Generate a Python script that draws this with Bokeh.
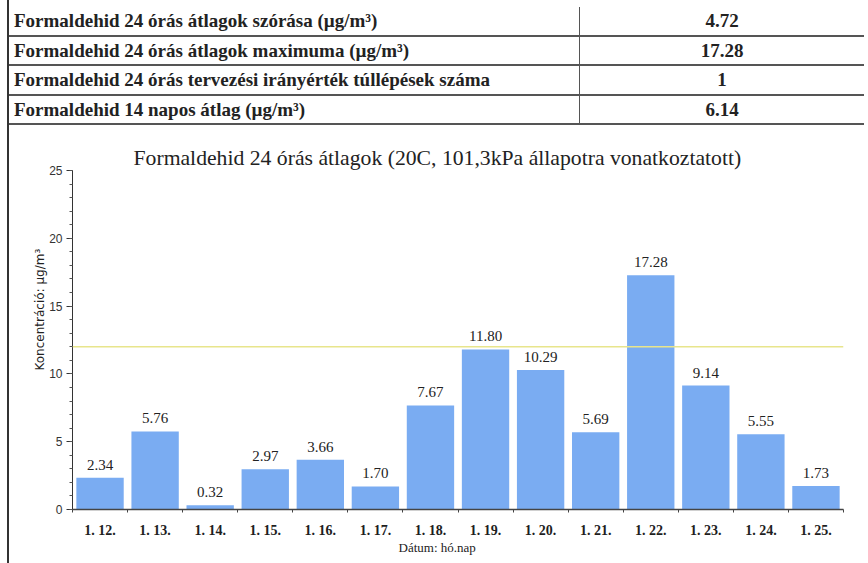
from bokeh.plotting import figure
from bokeh.models import Range1d, FixedTicker, Span, Div, Title
from bokeh.layouts import column
from bokeh.core.properties import value
from bokeh.embed import file_html
from bokeh.resources import INLINE

# ---- data ----
table_labels = [
    "Formaldehid 24 órás átlagok szórása (µg/m³)",
    "Formaldehid 24 órás átlagok maximuma (µg/m³)",
    "Formaldehid 24 órás tervezési irányérték túllépések száma",
    "Formaldehid 14 napos átlag (µg/m³)",
]
table_values = ["4.72", "17.28", "1", "6.14"]

dates = ["1. 12.", "1. 13.", "1. 14.", "1. 15.", "1. 16.", "1. 17.", "1. 18.",
         "1. 19.", "1. 20.", "1. 21.", "1. 22.", "1. 23.", "1. 24.", "1. 25."]
concentrations = [2.34, 5.76, 0.32, 2.97, 3.66, 1.70, 7.67,
                  11.80, 10.29, 5.69, 17.28, 9.14, 5.55, 1.73]
threshold = 12
y_ticks = [0, 5, 10, 15, 20, 25]

title_text = "Formaldehid 24 órás átlagok (20C, 101,3kPa állapotra vonatkoztatott)"
y_label = "Koncentráció: µg/m³"
x_label = "Dátum: hó.nap"

W = 855

# ---- table (HTML) ----
rows = []
for lab, val in zip(table_labels, table_values):
    rows.append(
        '<div style="height:29.5px;border-bottom:2px solid #555;display:flex;'
        'box-sizing:border-box;">'
        '<div style="width:571px;padding-left:5px;border-right:1.5px solid #555;'
        'box-sizing:border-box;display:flex;align-items:center;">' + lab + '</div>'
        '<div style="flex:1;display:flex;align-items:center;justify-content:center;">'
        + val + '</div></div>'
    )
table_html = (
    '<div style="width:%dpx;padding-top:7px;font-family:\'Liberation Serif\';font-weight:bold;'
    'font-size:19px;color:#222;line-height:1;">' % W + "".join(rows) + '</div>'
)
table = Div(text=table_html, width=W, height=125, styles={"margin": "0", "padding": "0"})

# ---- chart ----
p = figure(width=W, height=438, x_range=Range1d(0, len(dates)), y_range=Range1d(0, 25),
           output_backend="svg", toolbar_location=None,
           min_border_left=63, min_border_right=21, min_border_top=45, min_border_bottom=54,
           outline_line_color=None)
p.grid.visible = False

centers = [i + 0.5 for i in range(len(dates))]
p.vbar(x=centers, top=concentrations, width=0.86, fill_color="#7aacf2", line_color=None)
p.text(x=centers, y=concentrations, text=[f"{v:.2f}" for v in concentrations],
       text_align="center", text_baseline="bottom", y_offset=-8,
       text_font=value("Liberation Serif"), text_font_size="15px", text_color="#222")

p.add_layout(Span(location=threshold, dimension="width", line_color="#e8e58c", line_width=1.6))

p.title.text = title_text
p.title.align = "left"
p.title.offset = 61
p.title.text_font = "Liberation Serif"
p.title.text_font_style = "normal"
p.title.text_font_size = "21.7px"
p.title.text_color = "#222"
p.title.standoff = 2

ya = p.yaxis[0]
ya.ticker = FixedTicker(ticks=y_ticks, minor_ticks=list(range(0, 26)))
ya.major_tick_out = 6
ya.major_tick_in = 0
ya.minor_tick_out = 3
ya.minor_tick_in = 0
ya.axis_line_color = "#333"
ya.major_tick_line_color = "#333"
ya.minor_tick_line_color = "#555"
ya.major_label_text_font = "Liberation Sans"
ya.major_label_text_font_size = "12px"
ya.major_label_text_color = "#333"
ya.major_label_standoff = 4

p.add_layout(Title(text=y_label, align="left", offset=139, text_font="DejaVu Sans",
                   text_font_style="normal", text_font_size="12px", text_color="#222",
                   standoff=0), "left")

xa = p.xaxis[0]
xa.ticker = FixedTicker(ticks=centers, minor_ticks=list(range(len(dates) + 1)))
xa.major_label_overrides = {c: d for c, d in zip(centers, dates)}
xa.major_tick_out = 0
xa.major_tick_in = 0
xa.minor_tick_out = 3
xa.minor_tick_in = 0
xa.axis_line_color = "#444"
xa.axis_line_width = 1.5
xa.minor_tick_line_color = "#444"
xa.major_label_text_font = "Liberation Serif"
xa.major_label_text_font_style = "bold"
xa.major_label_text_font_size = "14px"
xa.major_label_text_color = "#1e1e1e"
xa.major_label_standoff = 10

p.add_layout(Title(text=x_label, align="left", offset=326, text_font="Liberation Serif",
                   text_font_style="normal", text_font_size="13px", text_color="#222",
                   standoff=-6), "below")

layout = column(table, p, styles={"border-left": "2px solid #333", "margin-left": "7px"})

open("out.html", "w").write(file_html(layout, INLINE))
